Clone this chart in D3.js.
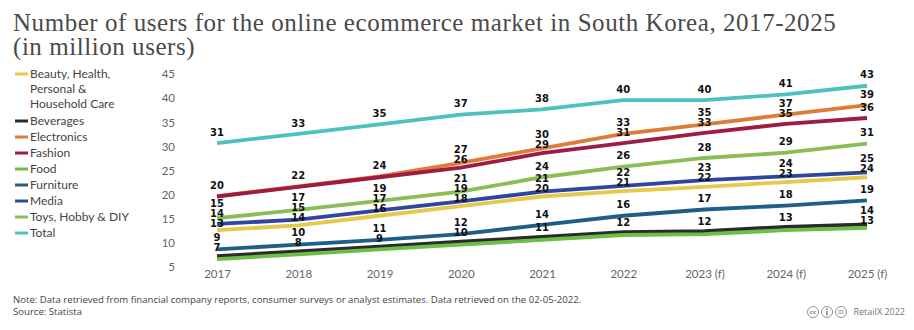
<!DOCTYPE html>
<html>
<head>
<meta charset="utf-8">
<script src="https://cdn.jsdelivr.net/npm/d3@7"></script>
<style>
  body { margin: 0; background: #fff; }
  svg { display: block; }
</style>
</head>
<body>
<div id="chart"><svg width="914" height="330"></svg></div>
<script>

// users in millions, 2017-2025 (2023 onwards are forecasts)
var years = ["2017", "2018", "2019", "2020", "2021", "2022", "2023 (f)", "2024 (f)", "2025 (f)"]

var beauty      = [12.6, 13.6, 15.6, 17.6, 19.6, 20.7, 21.6, 22.6, 23.6]
var beverages   = [7.2, 8.2, 9.2, 10.2, 11.2, 12.2, 12.4, 13.3, 13.8]
var electronics = [19.7, 21.7, 23.8, 26.6, 29.6, 32.6, 34.6, 36.6, 38.6]
var fashion     = [19.6, 21.6, 23.6, 25.6, 28.6, 30.7, 32.8, 34.7, 35.9]
var food        = [6.6, 7.6, 8.6, 9.6, 10.6, 11.6, 11.8, 12.6, 13.1]
var furniture   = [8.6, 9.6, 10.6, 11.8, 13.7, 15.6, 16.9, 17.7, 18.8]
var media       = [13.9, 14.8, 16.7, 18.6, 20.6, 21.8, 23.0, 23.8, 24.6]
var toys        = [15.1, 16.8, 18.7, 20.6, 23.6, 25.8, 27.6, 28.7, 30.6]
var total       = [30.7, 32.6, 34.6, 36.6, 37.7, 39.6, 39.6, 40.8, 42.6]

var series_names = ["Beauty, Health, Personal & Household Care", "Beverages", "Electronics",
                    "Fashion", "Food", "Furniture", "Media", "Toys, Hobby & DIY", "Total"]
var series_values = [beauty, beverages, electronics, fashion, food, furniture, media, toys, total]
var series_colors = ["#e6c84c", "#2b2b2b", "#de7b38", "#9e1c43", "#6cbf44",
                     "#1f5e86", "#2f46a0", "#8cbd55", "#4cc2bf"]

var y_ticks = [5, 10, 15, 20, 25, 30, 35, 40, 45]

var series = series_names.map(function(name, i) {
  return {name: name, values: series_values[i], color: series_colors[i]}
})

var svg = d3.select("#chart").select("svg")

var x = d3.scalePoint().domain(years).range([217, 867])
var y = d3.scaleLinear().domain([5, 45]).range([266.8, 74.2])

// title
var title = svg.append("g")
  .style("font-family", "'Liberation Serif', serif")
  .style("font-size", "25px")
  .style("letter-spacing", "0.55px")
  .style("fill", "#4a4a4a")
title.append("text").attr("x", 13).attr("y", 31)
  .text("Number of users for the online ecommerce market in South Korea, 2017-2025")
title.append("text").attr("x", 13).attr("y", 55)
  .text("(in million users)")

// axes
var y_axis = svg.append("g")
  .attr("transform", "translate(178,0)")
  .call(d3.axisLeft(y).tickValues(y_ticks).tickSize(0).tickPadding(3))
var x_axis = svg.append("g")
  .attr("transform", "translate(0,266.8)")
  .call(d3.axisBottom(x).tickSize(0).tickPadding(3))

;[y_axis, x_axis].forEach(function(ax) {
  ax.select(".domain").remove()
  ax.selectAll("text")
    .style("font-family", "Lato, sans-serif")
    .style("font-size", "11.5px")
    .style("fill", "#666")
})

// lines
var line = d3.line()
  .x(function(d, i) { return x(years[i]) })
  .y(function(d) { return y(d) })

svg.selectAll(".series").data(series).enter().append("path")
  .attr("class", "series")
  .attr("d", function(d) { return line(d.values) })
  .style("fill", "none")
  .style("stroke", function(d) { return d.color })
  .style("stroke-width", 3.8)

// value labels, one column per year; equal neighbours share a label
var fmt = d3.format(".0f")
var min_gap = 10

years.forEach(function(yr, j) {
  var col = series.map(function(s) {
    return {text: fmt(s.values[j]), pos: y(s.values[j]) - 11}
  }).sort(function(a, b) { return a.pos - b.pos })

  var merged = []
  col.forEach(function(d) {
    var last = merged[merged.length - 1]
    if (last && last.text == d.text && d.pos - last.pos < 10) {
      last.pos = (last.pos + d.pos) / 2
    } else {
      merged.push(d)
    }
  })

  for (var k = 0; k < 80; k++) {
    for (var i = 1; i < merged.length; i++) {
      var gap = merged[i].pos - merged[i-1].pos
      if (gap < min_gap) {
        var shift = (min_gap - gap) / 2
        merged[i-1].pos -= shift
        merged[i].pos += shift
      }
    }
  }

  svg.selectAll(".lbl" + j).data(merged).enter().append("text")
    .attr("class", "lbl" + j)
    .attr("x", x(yr))
    .attr("y", function(d) { return d.pos })
    .attr("dy", "0.36em")
    .attr("text-anchor", "middle")
    .style("font-family", "'DejaVu Sans', sans-serif")
    .style("font-weight", "bold")
    .style("font-size", "10px")
    .style("fill", "#111")
    .text(function(d) { return d.text })
})

// legend
var legend = svg.append("g")
  .style("font-family", "Lato, sans-serif")
  .style("font-size", "12px")
  .style("fill", "#444")

var ly = 74
series.forEach(function(s) {
  legend.append("line")
    .attr("x1", 15).attr("x2", 28)
    .attr("y1", ly).attr("y2", ly)
    .style("stroke", s.color)
    .style("stroke-width", 3)

  // wrap long names onto several lines
  var words = s.name.split(" ")
  var lines = []
  var cur = []
  var probe = legend.append("text")
  words.forEach(function(w) {
    probe.text(cur.concat([w]).join(" "))
    if (cur.length && probe.node().getComputedTextLength() > 100) {
      lines.push(cur.join(" "))
      cur = [w]
    } else {
      cur.push(w)
    }
  })
  lines.push(cur.join(" "))
  probe.remove()

  lines.forEach(function(t, i) {
    legend.append("text")
      .attr("x", 30)
      .attr("y", ly + i * 15)
      .attr("dy", "0.35em")
      .text(t)
  })
  ly += (lines.length - 1) * 15 + (lines.length > 1 ? 17 : 16)
})

// footer
var foot = svg.append("g")
  .style("font-family", "'Open Sans', sans-serif")
  .style("font-size", "9.6px")
  .style("fill", "#444")
foot.append("text").attr("x", 13).attr("y", 302.5)
  .text("Note: Data retrieved from financial company reports, consumer surveys or analyst estimates. Data retrieved on the 02-05-2022.")
foot.append("text").attr("x", 13).attr("y", 315)
  .text("Source: Statista")

foot.append("text").attr("x", 905).attr("y", 315)
  .attr("text-anchor", "end")
  .style("fill", "#777")
  .style("font-size", "9px")
  .text("RetailX 2022")

// creative commons badges
var cc = svg.append("g").style("fill", "none").style("stroke", "#888").style("stroke-width", 0.9)
;[813, 827, 841].forEach(function(cx) {
  cc.append("circle").attr("cx", cx).attr("cy", 312).attr("r", 5.5)
})
cc.append("text").attr("x", 813).attr("y", 314.3).attr("text-anchor", "middle")
  .style("fill", "#888").style("stroke", "none")
  .style("font-family", "'DejaVu Sans', sans-serif").style("font-size", "5.5px").style("font-weight", "bold")
  .text("cc")
cc.append("circle").attr("cx", 827).attr("cy", 309.2).attr("r", 1).style("fill", "#888").style("stroke", "none")
cc.append("line").attr("x1", 827).attr("x2", 827).attr("y1", 311).attr("y2", 315.5).style("stroke-width", 1.6)
cc.append("line").attr("x1", 838.5).attr("x2", 843.5).attr("y1", 310.8).attr("y2", 310.8)
cc.append("line").attr("x1", 838.5).attr("x2", 843.5).attr("y1", 313.2).attr("y2", 313.2)

</script>
</body>
</html>
